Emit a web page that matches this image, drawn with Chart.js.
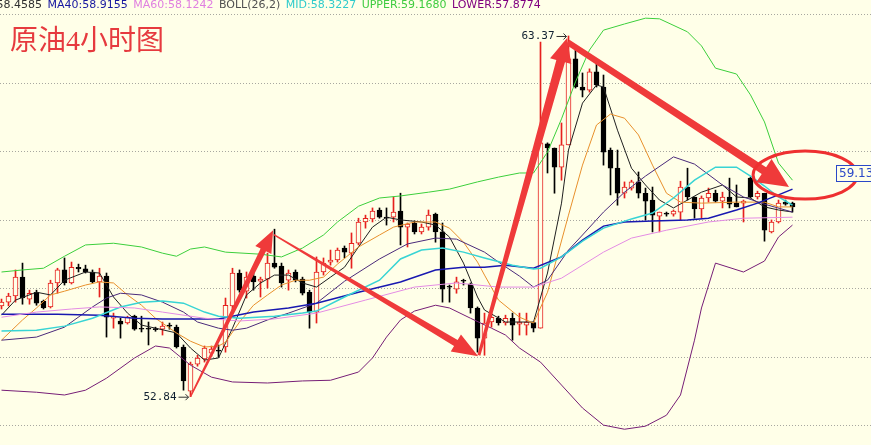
<!DOCTYPE html>
<html lang="zh">
<head>
<meta charset="utf-8">
<title>原油4小时图</title>
<script src="https://cdn.jsdelivr.net/npm/chart.js@4.4.1/dist/chart.umd.min.js"></script>
<style>
  html, body { margin: 0; padding: 0; background: #ffffe8; overflow: hidden; }
  canvas { display: block; }
</style>
</head>
<body>
<canvas id="graficoPetroleo" width="871" height="445"></canvas>
<script>
// Velas de 4 horas (apertura, máximo, mínimo, cierre)
const aperturas = [
  55.49, 55.60, 55.78, 56.33, 55.69, 55.89, 55.63, 55.46, 56.16, 56.54,
  56.16, 56.62, 56.57, 56.48, 56.19, 56.36, 55.13, 55.05, 54.99, 55.19,
  54.81, 54.81, 54.82, 54.81, 54.90, 54.87, 54.29, 53.00, 53.79, 53.94,
  54.11, 54.17, 54.29, 55.49, 56.45, 55.92, 56.36, 56.21, 56.27, 56.74,
  56.65, 56.24, 56.48, 56.27, 55.89, 55.31, 56.48, 56.77, 56.83, 57.18,
  57.03, 57.32, 57.94, 58.03, 58.29, 58.08, 58.08, 58.26, 57.79, 57.91,
  57.65, 57.79, 58.17, 57.65, 56.07, 55.98, 56.21, 56.13, 55.43, 54.55,
  55.02, 55.13, 54.99, 55.13, 54.96, 54.93, 55.00, 54.84, 60.22, 60.10,
  59.54, 60.19, 62.70, 61.88, 61.79, 62.32, 61.88, 60.04, 59.51, 58.78,
  58.93, 59.11, 58.78, 58.58, 58.11, 58.17, 58.17, 58.23, 58.96, 58.67,
  58.32, 58.64, 58.78, 58.55, 58.67, 58.49, 58.49, 59.22, 58.67, 58.78,
  57.65, 57.94, 58.52, 58.49
];
const maximos = [
  55.69, 55.86, 56.54, 56.74, 55.95, 55.95, 55.66, 56.24, 56.59, 56.89,
  56.77, 56.71, 56.68, 56.54, 56.59, 56.45, 55.28, 55.13, 55.19, 55.22,
  55.19, 55.02, 54.87, 55.02, 54.99, 54.93, 54.35, 53.85, 54.05, 54.32,
  54.32, 54.35, 55.72, 56.59, 56.54, 56.48, 56.48, 56.33, 57.03, 57.73,
  56.74, 56.54, 56.54, 56.33, 55.95, 56.92, 56.89, 57.12, 57.18, 57.24,
  57.62, 58.05, 58.14, 58.35, 58.35, 58.35, 58.67, 58.78, 57.91, 57.97,
  57.88, 58.29, 58.20, 57.91, 56.10, 56.33, 56.27, 56.16, 55.46, 55.28,
  55.28, 55.19, 55.22, 55.28, 55.28, 55.28, 55.02, 63.19, 60.25, 60.10,
  60.83, 63.37, 63.05, 62.29, 62.41, 62.61, 62.23, 60.10, 60.04, 59.11,
  59.16, 59.40, 58.93, 58.96, 58.23, 58.23, 58.29, 59.13, 59.51, 58.67,
  58.70, 58.93, 58.87, 58.81, 59.22, 59.02, 58.58, 59.25, 58.84, 58.78,
  58.00, 58.58, 58.58, 58.52
];
const minimos = [
  55.40, 55.49, 55.60, 55.54, 55.54, 55.51, 55.40, 55.43, 55.86, 56.10,
  56.13, 56.48, 56.45, 56.16, 55.75, 54.58, 54.84, 54.55, 54.96, 54.78,
  54.73, 54.35, 54.75, 54.64, 54.81, 54.26, 53.03, 52.84, 53.73, 53.85,
  54.02, 53.99, 54.14, 55.37, 55.89, 55.72, 55.95, 55.75, 56.01, 56.59,
  56.04, 55.95, 56.19, 55.81, 54.84, 54.99, 56.39, 56.68, 56.77, 56.89,
  56.59, 57.27, 57.76, 57.94, 58.05, 57.85, 57.94, 57.27, 57.21, 57.59,
  57.59, 57.70, 57.35, 55.60, 55.60, 55.86, 56.10, 55.28, 54.14, 54.05,
  54.87, 54.93, 54.93, 54.49, 54.64, 54.64, 54.73, 54.84, 59.37, 58.78,
  59.16, 60.19, 61.85, 61.59, 61.73, 61.88, 59.60, 58.73, 58.43, 58.64,
  58.87, 58.64, 58.00, 57.65, 57.65, 58.11, 58.11, 58.00, 58.58, 58.05,
  58.05, 58.52, 58.52, 58.35, 58.35, 58.38, 57.94, 58.64, 58.61, 57.38,
  57.62, 57.91, 58.43, 58.23
];
const cierres = [
  55.60, 55.78, 56.33, 55.72, 55.86, 55.57, 55.43, 56.16, 56.54, 56.16,
  56.62, 56.57, 56.48, 56.19, 56.36, 55.16, 55.19, 54.96, 55.16, 54.81,
  54.81, 54.81, 54.80, 54.90, 54.90, 54.29, 53.30, 53.79, 53.97, 54.26,
  54.23, 54.17, 55.51, 56.45, 55.95, 56.33, 56.19, 56.27, 56.74, 56.62,
  56.16, 56.45, 56.24, 55.86, 55.31, 56.48, 56.74, 56.83, 57.12, 57.06,
  57.32, 57.94, 58.05, 58.26, 58.08, 58.05, 58.23, 57.79, 57.88, 57.65,
  57.79, 58.14, 57.65, 55.98, 56.04, 56.19, 56.21, 55.43, 54.55, 54.99,
  55.16, 54.99, 55.13, 54.93, 55.02, 55.02, 54.84, 60.25, 60.10, 59.54,
  60.19, 62.70, 61.88, 61.79, 62.32, 61.94, 59.98, 59.51, 58.78, 58.96,
  59.11, 58.78, 58.55, 58.14, 58.23, 58.17, 58.26, 58.96, 58.67, 58.32,
  58.64, 58.78, 58.55, 58.67, 58.46, 58.38, 58.55, 58.67, 58.78, 57.70,
  57.94, 58.49, 58.46, 58.38
];

// Medias y bandas de Bollinger: índice de vela + valor leído
const upperIdx = [0, 3, 6, 9, 12, 16, 20, 23, 25, 27, 29, 32, 37, 40, 43, 46, 48, 51, 54, 57, 61, 64, 68, 71, 74, 76, 78, 80, 82, 84, 86, 89, 92, 94, 98, 100, 102, 105, 107, 109, 111, 113];
const upperVal = [56.48, 56.54, 56.59, 56.94, 57.27, 57.32, 57.21, 57.03, 56.94, 57.15, 57.21, 57.06, 57.00, 56.92, 57.18, 57.56, 57.94, 58.40, 58.64, 58.70, 58.81, 58.90, 59.11, 59.25, 59.37, 59.37, 59.98, 60.95, 62.03, 62.96, 63.54, 63.72, 63.89, 63.87, 63.49, 63.08, 62.43, 62.26, 61.65, 60.86, 59.66, 59.16];

const lowerIdx = [0, 5, 9, 12, 15, 19, 22, 24, 27, 30, 33, 38, 43, 47, 51, 53, 55, 57, 59, 62, 64, 67, 70, 72, 74, 77, 80, 83, 86, 89, 92, 95, 97, 99, 100, 102, 106, 109, 111, 113];
const lowerVal = [53.03, 52.97, 52.89, 53.03, 53.38, 53.97, 54.32, 54.26, 53.76, 53.41, 53.27, 53.24, 53.30, 53.32, 53.56, 53.97, 54.58, 55.08, 55.34, 55.51, 55.43, 55.13, 54.84, 54.64, 54.26, 53.85, 53.18, 52.51, 52.01, 51.89, 51.98, 52.30, 52.89, 54.49, 55.43, 56.74, 56.48, 56.80, 57.50, 57.85];

const midIdx = [0, 5, 9, 13, 17, 20, 23, 26, 29, 31, 34, 39, 43, 45, 49, 54, 57, 60, 63, 66, 69, 73, 76, 77, 80, 83, 86, 90, 93, 96, 99, 102, 105, 107, 109, 111, 113];
const midVal = [54.76, 54.78, 54.90, 55.13, 55.46, 55.60, 55.63, 55.57, 55.31, 55.19, 55.13, 55.19, 55.28, 55.34, 55.75, 56.24, 56.86, 57.12, 57.18, 57.06, 56.89, 56.68, 56.57, 56.59, 56.92, 57.38, 57.76, 58.03, 58.20, 58.64, 59.16, 59.54, 59.54, 59.28, 58.99, 58.67, 58.43];

const ma40Idx = [0, 8, 14, 19, 23, 31, 36, 41, 45, 51, 57, 62, 66, 69, 72, 76, 80, 83, 86, 89, 93, 98, 101, 105, 108, 111, 113];
const ma40Val = [55.25, 55.25, 55.22, 55.13, 55.11, 55.11, 55.31, 55.43, 55.57, 55.89, 56.19, 56.54, 56.62, 56.62, 56.68, 56.59, 56.92, 57.41, 57.82, 57.94, 57.97, 58.00, 58.05, 58.29, 58.49, 58.73, 58.90];

const ma60Idx = [0, 5, 10, 14, 19, 23, 29, 34, 39, 45, 52, 59, 65, 71, 76, 80, 86, 90, 95, 101, 106, 113];
const ma60Val = [55.16, 55.31, 55.40, 55.46, 55.43, 55.31, 55.13, 55.05, 55.11, 55.28, 55.66, 56.04, 56.16, 56.04, 56.04, 56.30, 57.06, 57.47, 57.70, 57.94, 58.05, 58.08];

const ma10Idx = [0, 3, 5, 7, 9, 12, 14, 16, 18, 20, 22, 25, 27, 29, 31, 32, 34, 36, 38, 40, 42, 44, 46, 48, 51, 54, 56, 59, 62, 64, 66, 68, 69, 71, 74, 76, 78, 81, 83, 85, 87, 89, 91, 93, 95, 97, 100, 105, 109, 111, 113];
const ma10Val = [54.49, 55.08, 55.43, 55.81, 55.92, 56.10, 56.19, 56.16, 55.81, 55.51, 55.13, 54.70, 54.46, 54.29, 54.32, 54.43, 55.02, 55.51, 55.81, 56.10, 56.24, 56.24, 56.33, 56.71, 57.21, 57.56, 57.79, 57.94, 57.94, 57.76, 57.35, 56.77, 56.39, 55.66, 55.16, 54.99, 55.89, 58.14, 59.60, 60.77, 61.09, 60.97, 60.48, 59.60, 58.78, 58.52, 58.49, 58.52, 58.52, 58.38, 58.38];

const ma5Idx = [0, 2, 5, 7, 9, 12, 14, 16, 18, 20, 22, 25, 27, 29, 31, 33, 35, 37, 39, 41, 43, 45, 47, 49, 51, 53, 55, 57, 60, 62, 64, 66, 68, 69, 72, 76, 78, 80, 81, 83, 85, 86, 88, 90, 92, 94, 96, 98, 100, 103, 105, 107, 109, 111, 113];
const ma5Val = [55.22, 55.66, 55.89, 55.81, 56.24, 56.48, 56.45, 55.75, 55.28, 54.93, 54.84, 54.70, 54.26, 53.91, 53.97, 54.84, 55.81, 56.16, 56.39, 56.39, 56.16, 56.04, 56.33, 56.62, 57.21, 57.79, 58.08, 58.00, 57.94, 57.85, 57.50, 56.74, 55.75, 55.37, 55.02, 55.02, 56.45, 58.49, 60.04, 61.41, 61.94, 61.88, 60.62, 59.51, 59.02, 58.58, 58.35, 58.58, 58.81, 59.02, 58.67, 58.64, 58.38, 58.29, 58.23];

const ma20Idx = [0, 5, 9, 13, 15, 17, 20, 23, 26, 28, 31, 33, 35, 38, 41, 45, 49, 54, 58, 62, 65, 69, 71, 74, 76, 78, 81, 83, 86, 89, 92, 96, 99, 103, 106, 109, 113];
const ma20Val = [54.49, 54.58, 54.87, 55.46, 55.72, 55.86, 55.81, 55.60, 55.31, 55.02, 54.84, 54.78, 54.84, 55.08, 55.28, 55.57, 56.21, 56.86, 57.30, 57.47, 57.44, 57.06, 56.77, 56.36, 56.04, 56.24, 57.12, 57.56, 58.23, 58.81, 59.28, 59.84, 59.63, 59.02, 58.67, 58.46, 58.23];

// Líneas de rejilla (precio)
const rejilla = [52, 54, 56, 58, 60, 62, 64];

// Texto de la cabecera
const leyendaTextos = ['MA20:58.4585', 'MA40:58.9155', 'MA60:58.1242', 'BOLL(26,2)', 'MID:58.3227', 'UPPER:59.1680', 'LOWER:57.8774'];

// Flechas dibujadas sobre el gráfico: [índice inicio, precio inicio, índice fin, precio fin]
const flechas = [
  [27, 52.84, 38.8, 57.70],
  [38.9, 57.57, 68.1, 54.02],
  [68.2, 54.05, 80.8, 63.31],
  [80.9, 63.19, 112.5, 58.96]
];
// Máximo y mínimo marcados: [índice, precio]
const marcaMinimo = [27, 52.84];
const marcaMaximo = [81, 63.37];
const ultimoPrecio = 59.13;
// Elipse: centro [índice, precio]
const centroElipse = [114.8, 59.31];

const fondo = '#ffffe8';
const rojoVela = '#e6201e';
const rojoFlecha = '#ef3a3a';

function puntos(idx, val) {
  return idx.map((x, k) => ({ x: x, y: val[k] }));
}
function esAlcista(i) {
  return cierres[i] > aperturas[i];
}

const velas = aperturas.map((o, i) => ({ x: i, y: [o, cierres[i]] }));
const mechas = aperturas.map((o, i) => ({ x: i, y: [minimos[i], maximos[i]] }));

const lineas = [
  { datos: puntos(upperIdx, upperVal), color: '#3ccf3c', ancho: 1 },
  { datos: puntos(lowerIdx, lowerVal), color: '#761e76', ancho: 1 },
  { datos: puntos(ma60Idx, ma60Val), color: '#e48ce4', ancho: 1 },
  { datos: puntos(midIdx, midVal), color: '#38d4d4', ancho: 1.5 },
  { datos: puntos(ma40Idx, ma40Val), color: '#1818b0', ancho: 1.5 },
  { datos: puntos(ma20Idx, ma20Val), color: '#4a2a7a', ancho: 1 },
  { datos: puntos(ma10Idx, ma10Val), color: '#e8902c', ancho: 1 },
  { datos: puntos(ma5Idx, ma5Val), color: '#202020', ancho: 1 }
];
const coloresLeyenda = ['#303030', '#1818a0', '#e080e0', '#505050', '#30cccc', '#40cc40', '#800080'];

function dibujarFlecha(ctx, x0, y0, x1, y1, w0, w1, largoPunta, anchoPunta) {
  const dx = x1 - x0, dy = y1 - y0, len = Math.hypot(dx, dy);
  const ux = dx / len, uy = dy / len, nx = -uy, ny = ux;
  const bx = x1 - ux * largoPunta, by = y1 - uy * largoPunta;
  ctx.beginPath();
  ctx.moveTo(x0 + nx * w0 / 2, y0 + ny * w0 / 2);
  ctx.lineTo(bx + nx * w1 / 2, by + ny * w1 / 2);
  ctx.lineTo(bx + nx * anchoPunta, by + ny * anchoPunta);
  ctx.lineTo(x1, y1);
  ctx.lineTo(bx - nx * anchoPunta, by - ny * anchoPunta);
  ctx.lineTo(bx - nx * w1 / 2, by - ny * w1 / 2);
  ctx.lineTo(x0 - nx * w0 / 2, y0 - ny * w0 / 2);
  ctx.closePath();
  ctx.fill();
}

function marcaPrecio(ctx, px, py, texto) {
  ctx.font = '11px "DejaVu Sans Mono"';
  ctx.fillStyle = '#102030';
  ctx.textAlign = 'right';
  ctx.textBaseline = 'middle';
  ctx.fillText(texto, px - 14, py);
  ctx.strokeStyle = '#303030';
  ctx.lineWidth = 1;
  ctx.beginPath();
  ctx.moveTo(px - 12, py + 0.5);
  ctx.lineTo(px - 2, py + 0.5);
  ctx.moveTo(px - 5, py - 2.5);
  ctx.lineTo(px - 2, py + 0.5);
  ctx.lineTo(px - 5, py + 3.5);
  ctx.stroke();
}

const anotaciones = {
  id: 'anotaciones',
  beforeDatasetsDraw(chart) {
    const ctx = chart.ctx, y = chart.scales.y, area = chart.chartArea;
    ctx.save();
    ctx.strokeStyle = '#a8a8a0';
    ctx.lineWidth = 1;
    ctx.setLineDash([1, 2]);
    rejilla.forEach(v => {
      const py = Math.round(y.getPixelForValue(v)) + 0.5;
      ctx.beginPath();
      ctx.moveTo(area.left, py);
      ctx.lineTo(area.right, py);
      ctx.stroke();
    });
    ctx.restore();
  },
  afterDraw(chart) {
    const ctx = chart.ctx, x = chart.scales.x, y = chart.scales.y, area = chart.chartArea;
    ctx.save();

    // Cabecera con los valores de los indicadores
    ctx.font = '11px "DejaVu Sans"';
    ctx.textBaseline = 'alphabetic';
    ctx.textAlign = 'left';
    let cx = 47 - 5 - ctx.measureText(leyendaTextos[0]).width;
    leyendaTextos.forEach((t, k) => {
      ctx.fillStyle = coloresLeyenda[k];
      ctx.fillText(t, cx, 8);
      cx += ctx.measureText(t).width + 5.5;
    });

    // Título
    ctx.font = '28px "Liberation Serif", "Noto Sans CJK SC"';
    ctx.fillStyle = '#e63a3e';
    ctx.fillText('原油4小时图', 10, 50);

    // Flechas rojas
    ctx.fillStyle = rojoFlecha;
    const estilos = [[1.5, 6, 22, 9], [1.5, 7, 26, 10], [3, 9, 24, 11], [6, 8, 30, 14]];
    flechas.forEach((f, k) => {
      const e = estilos[k];
      dibujarFlecha(ctx, x.getPixelForValue(f[0]), y.getPixelForValue(f[1]),
        x.getPixelForValue(f[2]), y.getPixelForValue(f[3]), e[0], e[1], e[2], e[3]);
    });

    // Elipse
    ctx.strokeStyle = '#ee3030';
    ctx.lineWidth = 3;
    ctx.beginPath();
    ctx.ellipse(x.getPixelForValue(centroElipse[0]), y.getPixelForValue(centroElipse[1]), 52, 24, 0, 0, Math.PI * 2);
    ctx.stroke();

    // Marcas de máximo y mínimo
    marcaPrecio(ctx, x.getPixelForValue(marcaMinimo[0]), y.getPixelForValue(marcaMinimo[1]), marcaMinimo[1].toFixed(2));
    marcaPrecio(ctx, x.getPixelForValue(marcaMaximo[0]), y.getPixelForValue(marcaMaximo[1]), marcaMaximo[1].toFixed(2));

    // Etiqueta del último precio
    const py = Math.round(y.getPixelForValue(ultimoPrecio));
    ctx.fillStyle = fondo;
    ctx.fillRect(area.right - 35, py - 16, 40, 17);
    ctx.strokeStyle = '#2a48c8';
    ctx.lineWidth = 1;
    ctx.strokeRect(area.right - 34.5, py - 15.5, 40, 16);
    ctx.fillStyle = '#2a48c8';
    ctx.font = '12px "DejaVu Sans"';
    ctx.textAlign = 'left';
    ctx.textBaseline = 'middle';
    ctx.fillText(ultimoPrecio.toFixed(2), area.right - 32, py - 7);
    ctx.restore();
  }
};

new Chart(document.getElementById('graficoPetroleo'), {
  type: 'bar',
  data: {
    datasets: [
      ...lineas.map(l => ({
        type: 'line',
        data: l.datos,
        borderColor: l.color,
        borderWidth: l.ancho,
        pointRadius: 0,
        tension: 0,
        fill: false,
        order: 0
      })),
      {
        data: velas,
        grouped: false,
        barThickness: 5,
        minBarLength: 1,
        borderWidth: 1,
        borderSkipped: false,
        backgroundColor: c => esAlcista(c.dataIndex) ? fondo : '#000',
        borderColor: c => esAlcista(c.dataIndex) ? rojoVela : '#000',
        order: 1
      },
      {
        data: mechas,
        grouped: false,
        barThickness: 1,
        borderWidth: 0,
        backgroundColor: c => esAlcista(c.dataIndex) ? rojoVela : '#000',
        order: 2
      }
    ]
  },
  options: {
    responsive: false,
    animation: false,
    devicePixelRatio: 1,
    events: [],
    layout: { padding: 0 },
    plugins: { legend: { display: false }, tooltip: { enabled: false } },
    scales: {
      x: { type: 'linear', min: -0.2143, max: 124.2143, offset: false, display: false },
      y: { min: 51.43, max: 64.42, display: false }
    }
  },
  plugins: [anotaciones]
});
</script>
</body>
</html>
